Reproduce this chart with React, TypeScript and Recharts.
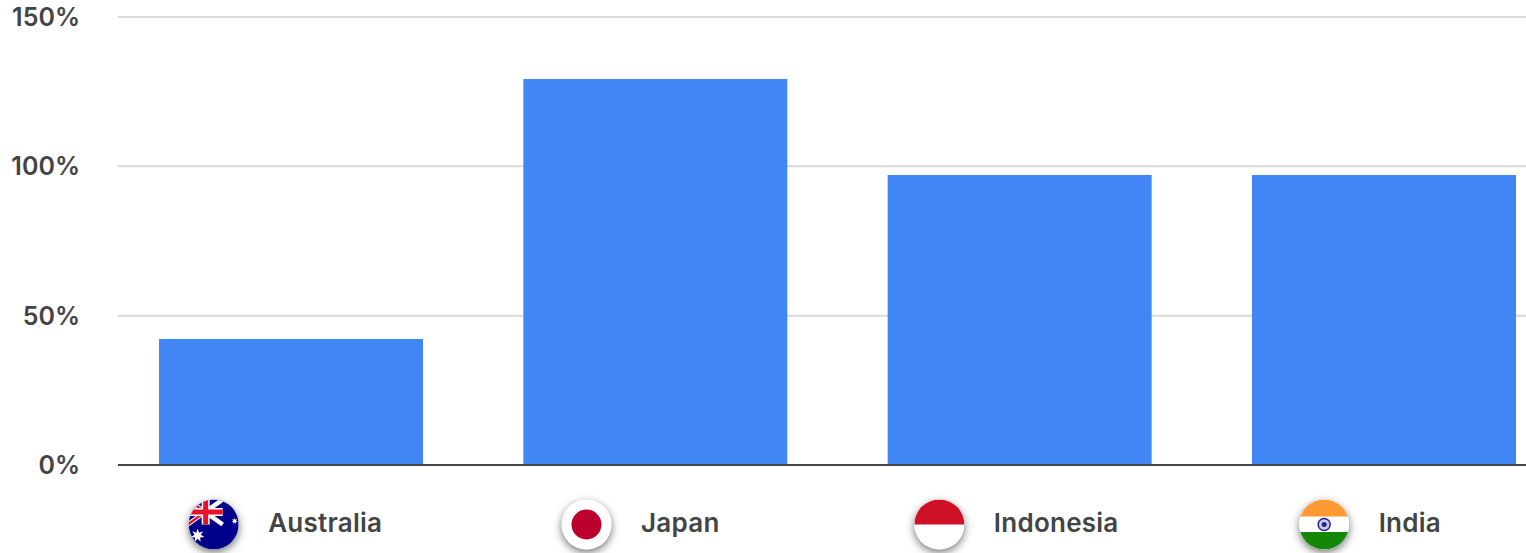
import React from 'react';
import { BarChart, Bar, XAxis, YAxis, CartesianGrid } from 'recharts';

const countries = ['Australia', 'Japan', 'Indonesia', 'India'];
const shares = [42.2, 129.2, 97.1, 97.1];
const yTicks = [0, 50, 100, 150];

const chartData = countries.map((name, i) => ({ name, share: shares[i] }));

const FONT = 'Inter, sans-serif';
const TEXT_COLOR = '#444444';
const FLAG_RADIUS = 25;

// The flag + name group is not centred on its band, so each one is nudged
const flagOffsets: Record<string, number> = {
  Australia: -77.5,
  Japan: -69,
  Indonesia: -80.5,
  India: -60,
};

const starPoints = (cx: number, cy: number, outer: number, count: number) => {
  const inner = outer * 0.45;
  const pts: string[] = [];
  for (let i = 0; i < count * 2; i++) {
    const r = i % 2 === 0 ? outer : inner;
    const a = (Math.PI * i) / count - Math.PI / 2;
    pts.push(`${cx + r * Math.cos(a)},${cy + r * Math.sin(a)}`);
  }
  return pts.join(' ');
};

const FlagArt: React.FC<{ name: string }> = ({ name }) => {
  const r = FLAG_RADIUS;
  if (name === 'Australia') {
    return (
      <>
        <rect x={-r} y={-r} width={r * 2} height={r * 2} fill="#00008b" />
        <path d="M-26,-25 L9,0 M-26,0 L9,-25" stroke="#ffffff" strokeWidth={4.5} />
        <path d="M-26,-25 L-8.5,-12.5 M-26,0 L-8.5,-12.5" stroke="#e8112d" strokeWidth={2.4} />
        <rect x={-26} y={-16.5} width={35} height={8} fill="#ffffff" />
        <rect x={-12} y={-25} width={8} height={25} fill="#ffffff" />
        <rect x={-26} y={-15} width={35} height={5} fill="#e8112d" />
        <rect x={-10.5} y={-25} width={5} height={25} fill="#e8112d" />
        <polygon points={starPoints(-16, 11, 7, 7)} fill="#ffffff" />
        <polygon points={starPoints(21, -3.5, 3.2, 7)} fill="#ffffff" />
      </>
    );
  }
  if (name === 'Japan') {
    return (
      <>
        <rect x={-r} y={-r} width={r * 2} height={r * 2} fill="#ffffff" />
        <circle r={15} fill="#bc002d" />
      </>
    );
  }
  if (name === 'Indonesia') {
    return (
      <>
        <rect x={-r} y={-r} width={r * 2} height={r * 2} fill="#ffffff" />
        <rect x={-r} y={-r} width={r * 2} height={r} fill="#ce1126" />
      </>
    );
  }
  return (
    <>
      <rect x={-r} y={-r} width={r * 2} height={r * 2} fill="#ffffff" />
      <rect x={-r} y={-r} width={r * 2} height={17} fill="#ff9933" />
      <rect x={-r} y={7.5} width={r * 2} height={17.5} fill="#138808" />
      <circle r={6} fill="#c9c9e6" stroke="#23238f" strokeWidth={1.5} />
      <circle r={2.5} fill="#23238f" />
    </>
  );
};

const CountryTick = (props: any) => {
  const { x, y, payload } = props;
  const name: string = payload.value;
  const cx = x + flagOffsets[name];
  const cy = y + 59.5;
  return (
    <g>
      <defs>
        <clipPath id={`flag-${name}`}>
          <circle cx={0} cy={0} r={FLAG_RADIUS} />
        </clipPath>
      </defs>
      <g transform={`translate(${cx},${cy})`}>
        <circle r={FLAG_RADIUS} fill="#ffffff" style={{ filter: 'drop-shadow(0px 3px 4px rgba(0,0,0,0.55))' }} />
        <g clipPath={`url(#flag-${name})`}>
          <FlagArt name={name} />
        </g>
      </g>
      <text x={cx + 54.5} y={cy + 7.5} fontFamily={FONT} fontSize={26} fontWeight={600} letterSpacing={0.25} fill={TEXT_COLOR}>
        {name}
      </text>
    </g>
  );
};

export default function App() {
  return (
    <div style={{ position: 'absolute', left: 0, top: 0, width: 1526, height: 553, overflow: 'hidden', background: '#fff' }}>
      <BarChart
        width={1566}
        height={553}
        data={chartData}
        margin={{ top: 17, right: 0, bottom: 0, left: 0 }}
        barSize={264}
      >
        <CartesianGrid horizontal vertical={false} stroke="#d9d9d9" strokeWidth={2} />
        <XAxis
          dataKey="name"
          height={88}
          interval={0}
          padding={{ left: -9, right: -0.33 }}
          tickLine={false}
          tickSize={0}
          tickMargin={0}
          axisLine={{ stroke: TEXT_COLOR, strokeWidth: 2 }}
          tick={<CountryTick />}
        />
        <YAxis
          width={118}
          domain={[0, 150]}
          ticks={yTicks}
          interval={0}
          axisLine={false}
          tickLine={false}
          tickSize={0}
          tickMargin={38}
          tickFormatter={(v: number) => `${v}%`}
          tick={{ fontFamily: FONT, fontSize: 25, fontWeight: 600, fill: TEXT_COLOR }}
        />
        <Bar dataKey="share" fill="#4285f4" isAnimationActive={false} />
      </BarChart>
    </div>
  );
}
